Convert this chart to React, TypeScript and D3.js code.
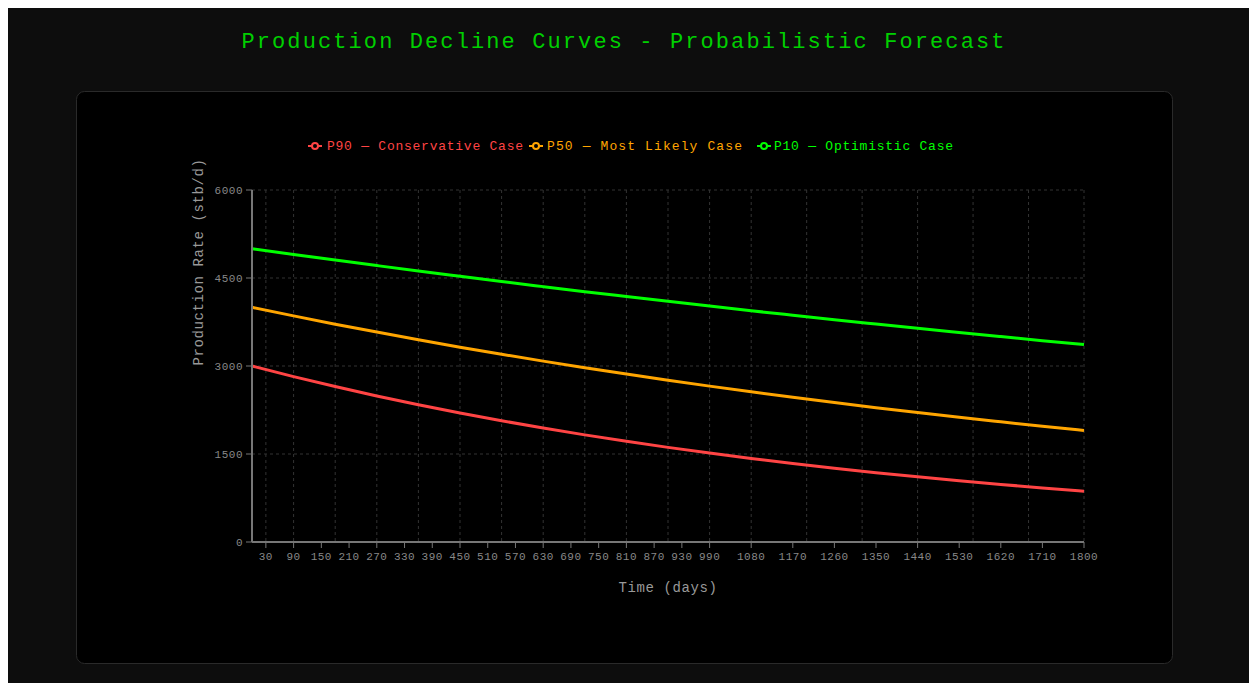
import React from "react";
import * as d3 from "d3";

// ---- data ----
const days = [0, 90, 180, 270, 360, 450, 540, 630, 720, 810, 900, 990, 1080, 1170, 1260, 1350, 1440, 1530, 1620, 1710, 1800];
const p90 = [3000, 2819, 2650, 2490, 2340, 2199, 2067, 1943, 1826, 1716, 1613, 1516, 1424, 1339, 1258, 1182, 1111, 1044, 981, 922, 867];
const p50 = [4000, 3854, 3713, 3578, 3447, 3321, 3200, 3083, 2970, 2862, 2757, 2657, 2560, 2466, 2376, 2289, 2206, 2125, 2048, 1973, 1901];
const p10 = [5000, 4902, 4806, 4712, 4619, 4529, 4440, 4353, 4267, 4184, 4102, 4021, 3942, 3865, 3789, 3715, 3642, 3571, 3501, 3432, 3365];

const seriesNames = ["P90 — Conservative Case", "P50 — Most Likely Case", "P10 — Optimistic Case"];
const seriesColors = ["#ff4444", "#ffa500", "#00ff00"];

const xTickValues = [30, 90, 150, 210, 270, 330, 390, 450, 510, 570, 630, 690, 750, 810, 870, 930, 990, 1080, 1170, 1260, 1350, 1440, 1530, 1620, 1710, 1800];
const xGridValues = [30, 90, 180, 270, 360, 450, 540, 630, 720, 810, 900, 990, 1080, 1200, 1320, 1440, 1560, 1680, 1800];
const yTickValues = [0, 1500, 3000, 4500, 6000];

const titleText = "Production Decline Curves - Probabilistic Forecast";
const xLabel = "Time (days)";
const yLabel = "Production Rate (stb/d)";

const FONT = "'Liberation Mono', 'Courier New', monospace";

export default function App() {
  const left = 252, right = 1084, top = 190, bottom = 542;
  const x = d3.scaleLinear().domain([0, 1800]).range([left, right]);
  const y = d3.scaleLinear().domain([0, 6000]).range([bottom, top]);

  const series = [p90, p50, p10];
  const line = d3
    .line<number>()
    .x((_, i) => x(days[i]))
    .y((v) => y(v))
    .curve(d3.curveMonotoneX);

  const legendIcon = [315, 536, 764];
  const legendText = [327, 547, 774];
  const legendWidth = [196, 195, 179];
  const legendY = 146;

  return (
    <div style={{ width: 1249, height: 675, background: "#0d0d0d" }}>
      <style>{"html,body{overflow:hidden}"}</style>
      <svg width={1249} height={675} style={{ display: "block" }}>
        <g transform="translate(-8,-8)">
          <text
            x={624}
            y={48}
            textAnchor="middle"
            fill="#00d000"
            fontFamily={FONT}
            fontSize={22}
            letterSpacing={2.1}
          >
            {titleText}
          </text>

          <rect x={76.5} y={91.5} width={1096} height={572} rx={8} fill="#000" stroke="#2a2a2a" strokeWidth={1} />

          {/* grid */}
          <g stroke="#333" strokeDasharray="3 3" strokeWidth={1}>
            {yTickValues.filter((v) => v > 0).map((v) => (
              <line key={"h" + v} x1={left} x2={right} y1={y(v)} y2={y(v)} />
            ))}
            {xGridValues.map((v) => (
              <line key={"v" + v} x1={x(v)} x2={x(v)} y1={top} y2={bottom} />
            ))}
          </g>

          {/* lines */}
          {series.map((s, i) => (
            <path key={i} d={line(s) || ""} fill="none" stroke={seriesColors[i]} strokeWidth={3} strokeLinejoin="round" />
          ))}

          {/* x axis */}
          <g>
            <line x1={left} x2={right} y1={bottom} y2={bottom} stroke="#777" strokeWidth={2} />
            {xTickValues.map((v) => (
              <g key={v}>
                <line x1={x(v)} x2={x(v)} y1={bottom} y2={bottom + 6} stroke="#777" strokeWidth={1} />
                <text x={x(v)} y={560} textAnchor="middle" fill="#888" fontFamily={FONT} fontSize={11} letterSpacing={0.5}>
                  {v}
                </text>
              </g>
            ))}
          </g>

          {/* y axis */}
          <g>
            <line x1={left} x2={left} y1={top} y2={bottom} stroke="#777" strokeWidth={2} />
            {yTickValues.map((v) => (
              <g key={v}>
                <line x1={left - 6} x2={left} y1={y(v)} y2={y(v)} stroke="#777" strokeWidth={1} />
                <text x={left - 9} y={y(v) + 4} textAnchor="end" fill="#888" fontFamily={FONT} fontSize={11} letterSpacing={0.5}>
                  {v}
                </text>
              </g>
            ))}
          </g>

          <text x={668} y={592} textAnchor="middle" fill="#999" fontFamily={FONT} fontSize={14} letterSpacing={0.6}>
            {xLabel}
          </text>
          <text
            transform={`translate(203,262) rotate(-90)`}
            textAnchor="middle"
            fill="#999"
            fontFamily={FONT}
            fontSize={14}
            letterSpacing={0.6}
          >
            {yLabel}
          </text>

          {/* legend */}
          {seriesNames.map((n, i) => (
            <g key={n}>
              <line x1={legendIcon[i] - 7} x2={legendIcon[i] + 7} y1={legendY} y2={legendY} stroke={seriesColors[i]} strokeWidth={2} />
              <circle cx={legendIcon[i]} cy={legendY} r={3} fill="#000" stroke={seriesColors[i]} strokeWidth={2} />
              <text
                x={legendText[i]}
                y={legendY + 4}
                fill={seriesColors[i]}
                fontFamily={FONT}
                fontSize={13}
                textLength={legendWidth[i]}
                lengthAdjust="spacing"
              >
                {n}
              </text>
            </g>
          ))}
        </g>
      </svg>
    </div>
  );
}
